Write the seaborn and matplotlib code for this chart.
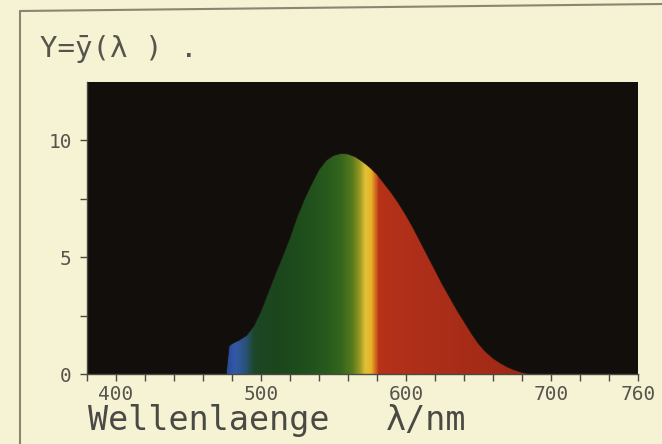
import numpy as np
import pandas as pd
import matplotlib
matplotlib.use("Agg")
import matplotlib.pyplot as plt
from matplotlib.colors import LinearSegmentedColormap
from matplotlib.lines import Line2D
import seaborn as sns

# ---- data ----
wavelength = [476, 478, 480, 485, 490, 495, 500, 505, 510, 515, 520, 525, 530, 535,
              540, 545, 550, 555, 560, 565, 570, 575, 580, 585, 590, 595, 600, 605,
              610, 615, 620, 625, 630, 635, 640, 645, 650, 655, 660, 665, 670, 675,
              680, 685]
y_bar = [0, 1.2, 1.3, 1.45, 1.65, 2.05, 2.7, 3.5, 4.3, 5.05, 5.85, 6.75, 7.5, 8.15,
         8.75, 9.15, 9.36, 9.44, 9.42, 9.3, 9.1, 8.85, 8.55, 8.15, 7.75, 7.3, 6.8, 6.25,
         5.65, 5.05, 4.45, 3.85, 3.3, 2.75, 2.25, 1.75, 1.3, 0.95, 0.68, 0.47, 0.3, 0.17,
         0.07, 0]
x_ticks_major = [400, 500, 600, 700, 760]
x_tick_labels = ["400", "500", "600", "700", "760"]
x_ticks_minor = list(range(380, 761, 20))
y_ticks_major = [0, 5, 10]
y_tick_labels = ["0", "5", "10"]
y_ticks_minor = [2.5, 7.5]
title_text = "Y=ȳ(λ ) ."
xlabel_word = "Wellenlaenge"
xlabel_unit = "λ/nm"

df = pd.DataFrame({"wavelength": wavelength, "Y": y_bar})

# ---- style ----
BG = "#f6f2d4"
INK = "#4a4a44"
PLOT_BG = "#120e0c"
sns.set_theme(style="ticks")
plt.rcParams["font.family"] = ["DejaVu Sans Mono", "DejaVu Sans"]

fig = plt.figure(figsize=(6.62, 4.44), dpi=100, facecolor=BG)
ax = fig.add_axes([87 / 662, 1 - 374 / 444, (638 - 87) / 662, (374 - 82) / 444])
ax.set_facecolor(PLOT_BG)
ax.set_xlim(380, 760)
ax.set_ylim(0, 12.5)

# spectral colours by wavelength
stops = [(476, "#2a4a9a"), (482, "#3358a8"), (489, "#2a5278"), (495, "#1d4726"),
         (510, "#1b461c"), (530, "#1f4f1c"), (545, "#28591d"), (555, "#35661c"),
         (563, "#587a1e"), (568, "#9a9a22"), (572, "#e2c238"), (576, "#e8b224"),
         (579, "#d06a20"), (581, "#b63218"), (600, "#b0301a"), (690, "#9c2816")]
lo, hi = stops[0][0], stops[-1][0]
cmap = LinearSegmentedColormap.from_list(
    "spec", [((w - lo) / (hi - lo), c) for w, c in stops])
grid_x = np.linspace(lo, hi, 800)
img = np.tile(grid_x, (10, 1))
im = ax.imshow(img, extent=(lo, hi, 0, 12.5), aspect="auto", cmap=cmap,
               vmin=lo, vmax=hi, origin="lower", interpolation="bilinear", zorder=1)

poly = ax.fill_between(df["wavelength"], 0, df["Y"], color="none", lw=0, zorder=0)
im.set_clip_path(poly.get_paths()[0], transform=ax.transData)
sns.lineplot(data=df, x="wavelength", y="Y", ax=ax, color="#1a1410", lw=0.6,
             zorder=2, legend=False)

ax.set_xlabel("")
ax.set_ylabel("")
for s in ["top", "right"]:
    ax.spines[s].set_visible(False)
for s in ["left", "bottom"]:
    ax.spines[s].set_color(INK)
    ax.spines[s].set_linewidth(1.0)

ax.set_xticks(x_ticks_major)
ax.set_xticklabels(x_tick_labels)
ax.set_xticks(x_ticks_minor, minor=True)
ax.set_yticks(y_ticks_major)
ax.set_yticklabels(y_tick_labels)
ax.set_yticks(y_ticks_minor, minor=True)
ax.tick_params(axis="both", which="both", direction="out", length=5, width=1.0,
               color=INK, labelcolor="#55554c", labelsize=14)
ax.tick_params(axis="x", which="major", pad=3)
ax.tick_params(axis="y", which="major", pad=6)

fig.text(40 / 662, 1 - 49 / 444, title_text, fontsize=21, color="#55554c",
         ha="left", va="center")
fig.text(88 / 662, 1 - 430 / 444, xlabel_word, fontsize=24, color=INK,
         ha="left", va="baseline")
fig.text(386 / 662, 1 - 430 / 444, xlabel_unit, fontsize=24, color=INK,
         ha="left", va="baseline")

# photographed page frame
fig.add_artist(Line2D([20 / 662, 20 / 662], [0, 1 - 11 / 444],
                      transform=fig.transFigure, color="#8a8670", lw=1.5))
fig.add_artist(Line2D([20 / 662, 1.0], [1 - 11 / 444, 1 - 4 / 444],
                      transform=fig.transFigure, color="#8a8670", lw=1.5))

fig.savefig("out.png", dpi=100, facecolor=BG)
